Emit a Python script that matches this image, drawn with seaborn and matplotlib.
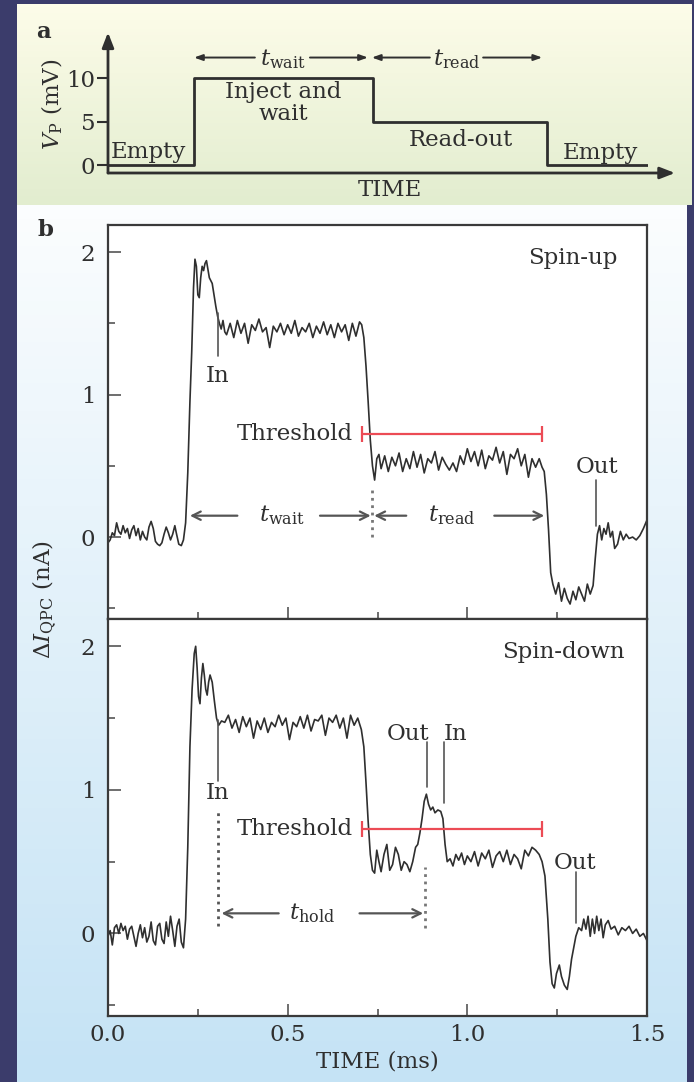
import numpy as np
import matplotlib
matplotlib.use("Agg")
import matplotlib.pyplot as plt
from matplotlib.ticker import MultipleLocator
import seaborn as sns

# ---------------- data ----------------
# panel a: gate pulse (time in ms, Vp in mV)
pulse_t = [0.0, 0.239, 0.239, 0.736, 0.736, 1.219, 1.219, 1.5]
pulse_v = [0, 0, 10, 10, 5, 5, 0, 0]

# panel b, spin-up trace
t_up = [0.000, 0.006, 0.012, 0.018, 0.024, 0.030, 0.036, 0.042, 0.048, 0.054,
        0.060, 0.066, 0.072, 0.078, 0.084, 0.090, 0.096, 0.102, 0.108, 0.114,
        0.120, 0.126, 0.132, 0.138, 0.144, 0.150, 0.156, 0.162, 0.168, 0.174,
        0.180, 0.186, 0.190, 0.197, 0.204, 0.210, 0.216, 0.222, 0.228, 0.233,
        0.238, 0.242, 0.246, 0.250, 0.254, 0.258, 0.262, 0.266, 0.270, 0.274,
        0.278, 0.282, 0.286, 0.290, 0.295, 0.300, 0.305, 0.310, 0.315, 0.320,
        0.325, 0.330, 0.340, 0.350, 0.360, 0.370, 0.380, 0.390, 0.400, 0.410,
        0.420, 0.430, 0.440, 0.450, 0.460, 0.470, 0.480, 0.490, 0.500, 0.510,
        0.520, 0.530, 0.540, 0.550, 0.560, 0.570, 0.580, 0.590, 0.600, 0.610,
        0.620, 0.630, 0.640, 0.650, 0.660, 0.670, 0.680, 0.690, 0.700, 0.706,
        0.712, 0.718, 0.724, 0.730, 0.736, 0.742, 0.748, 0.754, 0.760, 0.770,
        0.780, 0.790, 0.800, 0.810, 0.820, 0.830, 0.840, 0.850, 0.860, 0.870,
        0.880, 0.890, 0.900, 0.910, 0.920, 0.930, 0.940, 0.950, 0.960, 0.970,
        0.980, 0.990, 1.000, 1.010, 1.020, 1.030, 1.040, 1.050, 1.060, 1.070,
        1.080, 1.090, 1.100, 1.110, 1.120, 1.130, 1.140, 1.150, 1.160, 1.170,
        1.180, 1.190, 1.200, 1.208, 1.214, 1.220, 1.226, 1.232, 1.238, 1.246,
        1.254, 1.262, 1.270, 1.278, 1.286, 1.294, 1.302, 1.310, 1.318, 1.326,
        1.334, 1.342, 1.350, 1.356, 1.362, 1.368, 1.374, 1.380, 1.386, 1.392,
        1.398, 1.404, 1.410, 1.418, 1.426, 1.434, 1.442, 1.450, 1.460, 1.470,
        1.480, 1.490, 1.500]
i_up = [-0.04, -0.02, 0.03, 0.01, 0.10, 0.04, 0.02, 0.08, 0.03, 0.06,
        -0.01, 0.05, 0.08, 0.01, 0.06, -0.02, 0.04, 0.00, -0.02, 0.07,
        0.11, 0.06, -0.03, -0.05, -0.06, -0.04, 0.02, 0.07, 0.03, -0.02,
        0.02, 0.08, 0.03, -0.05, -0.06, -0.02, 0.10, 0.45, 0.95, 1.30,
        1.75, 1.95, 1.90, 1.70, 1.68, 1.82, 1.90, 1.87, 1.92, 1.94,
        1.88, 1.82, 1.80, 1.78, 1.70, 1.62, 1.55, 1.50, 1.46, 1.52,
        1.44, 1.42, 1.50, 1.40, 1.52, 1.43, 1.50, 1.36, 1.49, 1.45,
        1.53, 1.44, 1.47, 1.33, 1.48, 1.44, 1.50, 1.42, 1.49, 1.43,
        1.52, 1.41, 1.47, 1.44, 1.50, 1.40, 1.48, 1.43, 1.51, 1.42,
        1.49, 1.40, 1.50, 1.44, 1.49, 1.38, 1.50, 1.41, 1.51, 1.49,
        1.40, 1.20, 0.95, 0.68, 0.50, 0.40, 0.55, 0.58, 0.48, 0.57,
        0.46, 0.56, 0.50, 0.59, 0.46, 0.55, 0.48, 0.60, 0.49, 0.58,
        0.45, 0.55, 0.52, 0.60, 0.47, 0.56, 0.51, 0.47, 0.52, 0.46,
        0.57, 0.51, 0.62, 0.53, 0.60, 0.50, 0.61, 0.48, 0.57, 0.54,
        0.63, 0.52, 0.60, 0.44, 0.58, 0.55, 0.62, 0.50, 0.58, 0.42,
        0.55, 0.49, 0.55, 0.49, 0.46, 0.30, 0.05, -0.25, -0.33, -0.40,
        -0.32, -0.45, -0.36, -0.43, -0.47, -0.38, -0.44, -0.35, -0.40, -0.45,
        -0.33, -0.40, -0.34, -0.15, 0.02, 0.08, -0.02, 0.06, 0.02, 0.10,
        0.00, 0.04, -0.08, -0.05, 0.04, -0.02, 0.02, -0.01, 0.00, -0.02,
        0.01, 0.06, 0.12]

# panel b, spin-down trace
t_dn = [0.000, 0.006, 0.012, 0.018, 0.024, 0.030, 0.036, 0.042, 0.048, 0.054,
        0.060, 0.066, 0.072, 0.078, 0.084, 0.090, 0.096, 0.102, 0.108, 0.114,
        0.120, 0.126, 0.132, 0.138, 0.144, 0.150, 0.156, 0.162, 0.168, 0.174,
        0.180, 0.186, 0.192, 0.198, 0.204, 0.210, 0.216, 0.222, 0.228, 0.234,
        0.240, 0.244, 0.248, 0.252, 0.256, 0.260, 0.264, 0.268, 0.272, 0.276,
        0.280, 0.284, 0.290, 0.296, 0.302, 0.308, 0.316, 0.325, 0.335, 0.345,
        0.355, 0.365, 0.375, 0.385, 0.395, 0.405, 0.415, 0.425, 0.435, 0.445,
        0.455, 0.465, 0.475, 0.485, 0.495, 0.505, 0.515, 0.525, 0.535, 0.545,
        0.555, 0.565, 0.575, 0.585, 0.595, 0.605, 0.615, 0.625, 0.635, 0.645,
        0.655, 0.665, 0.675, 0.685, 0.695, 0.705, 0.712, 0.718, 0.724, 0.730,
        0.736, 0.742, 0.748, 0.754, 0.760, 0.768, 0.776, 0.784, 0.792, 0.800,
        0.808, 0.816, 0.824, 0.832, 0.840, 0.848, 0.856, 0.862, 0.868, 0.874,
        0.880, 0.886, 0.892, 0.898, 0.904, 0.910, 0.918, 0.926, 0.932, 0.938,
        0.944, 0.952, 0.960, 0.968, 0.976, 0.984, 0.992, 1.000, 1.010, 1.020,
        1.030, 1.040, 1.050, 1.060, 1.070, 1.080, 1.090, 1.100, 1.110, 1.120,
        1.130, 1.140, 1.150, 1.160, 1.170, 1.180, 1.190, 1.200, 1.208, 1.216,
        1.224, 1.230, 1.236, 1.242, 1.248, 1.256, 1.262, 1.270, 1.278, 1.284,
        1.290, 1.296, 1.302, 1.310, 1.318, 1.324, 1.330, 1.336, 1.342, 1.348,
        1.354, 1.360, 1.366, 1.372, 1.378, 1.384, 1.392, 1.400, 1.410, 1.420,
        1.430, 1.440, 1.450, 1.460, 1.470, 1.480, 1.490, 1.500]
i_dn = [-0.02, 0.02, -0.08, 0.04, 0.06, 0.00, 0.07, 0.02, 0.05, -0.04,
        0.03, 0.05, -0.02, -0.09, 0.00, 0.06, -0.03, 0.04, -0.06, -0.02,
        0.08, -0.05, -0.08, 0.05, 0.07, -0.04, -0.07, 0.08, -0.02, 0.12,
        0.02, -0.09, 0.05, 0.10, -0.06, -0.10, 0.10, 0.60, 1.30, 1.70,
        1.95, 2.00, 1.85, 1.65, 1.60, 1.78, 1.88, 1.80, 1.70, 1.66,
        1.75, 1.80, 1.75, 1.62, 1.50, 1.45, 1.48, 1.47, 1.52, 1.43,
        1.49, 1.40, 1.51, 1.44, 1.50, 1.36, 1.48, 1.42, 1.50, 1.40,
        1.47, 1.44, 1.52, 1.45, 1.50, 1.35, 1.47, 1.44, 1.51, 1.43,
        1.52, 1.41, 1.49, 1.48, 1.52, 1.38, 1.50, 1.47, 1.52, 1.43,
        1.50, 1.36, 1.52, 1.45, 1.50, 1.42, 1.30, 1.05, 0.78, 0.55,
        0.44, 0.42, 0.58, 0.50, 0.43, 0.55, 0.62, 0.44, 0.48, 0.60,
        0.55, 0.44, 0.50, 0.48, 0.43, 0.50, 0.60, 0.62, 0.70, 0.80,
        0.92, 0.97, 0.90, 0.86, 0.88, 0.84, 0.86, 0.85, 0.80, 0.62,
        0.50, 0.52, 0.47, 0.55, 0.51, 0.56, 0.48, 0.54, 0.50, 0.57,
        0.47, 0.56, 0.52, 0.58, 0.46, 0.54, 0.57, 0.50, 0.58, 0.48,
        0.55, 0.52, 0.45, 0.58, 0.54, 0.60, 0.58, 0.55, 0.50, 0.40,
        0.10, -0.20, -0.35, -0.38, -0.28, -0.22, -0.30, -0.36, -0.39, -0.30,
        -0.18, -0.10, -0.02, 0.04, 0.02, 0.10, 0.03, 0.12, -0.02, 0.10,
        0.00, 0.12, 0.02, 0.10, -0.03, 0.06, 0.09, 0.03, 0.05, -0.01,
        0.04, 0.02, 0.05, 0.00, 0.03, -0.02, 0.00, -0.05]

threshold_t = [0.708, 1.208]
threshold_up = 0.72
threshold_dn = 0.73

# ---------------- style ----------------
sns.set_style("ticks")
plt.rcParams['font.family'] = ['DejaVu Serif']
plt.rcParams['mathtext.fontset'] = 'dejavuserif'

W, H = 694, 1082
INK = "#2f2f2f"
GREY = "#555555"
RED = "#ec4b55"
FS = 16.5


def box(x0, y0, x1, y1):
    # pixel box -> figure fraction
    return [x0 / W, 1 - y1 / H, (x1 - x0) / W, (y1 - y0) / H]


fig = plt.figure(figsize=(W / 100, H / 100), dpi=100, facecolor="#3b3c6b")

# slide backgrounds
bg = fig.add_axes([0, 0, 1, 1], zorder=-10)
bg.axis("off")
green = np.array([[253, 252, 233], [226, 237, 207]]) / 255
blue = np.array([[251, 253, 254], [197, 227, 245]]) / 255
g = np.linspace(0, 1, 64)[:, None, None]
bg.imshow(green[0] * (1 - g) + green[1] * g, extent=[17, 692, 205, 4], aspect="auto")
bg.imshow(blue[0] * (1 - g) + blue[1] * g, extent=[17, 687, 1082, 205], aspect="auto")
bg.set_xlim(0, W)
bg.set_ylim(H, 0)

# ---------------- panel a ----------------
axa = fig.add_axes(box(108, 35, 648, 173))
axa.patch.set_alpha(0)
sns.lineplot(x=pulse_t, y=pulse_v, ax=axa, color=INK, lw=2, sort=False, estimator=None)
axa.set_xlim(0, 1.5)
axa.set_ylim(-0.92, 15)
for s in axa.spines.values():
    s.set_visible(False)
axa.set_xticks([])
axa.set_yticks([0, 5, 10])
axa.tick_params(axis="y", direction="out", length=8, width=1.5, color=INK,
                labelsize=FS, pad=1, labelcolor=INK)
arrow_k = dict(arrowstyle="-|>,head_length=0.9,head_width=0.35", color=INK, lw=2,
               shrinkA=0, shrinkB=0)
axa.annotate("", xy=(0, 15.3), xytext=(0, -0.92), arrowprops=arrow_k, annotation_clip=False)
axa.annotate("", xy=(1.575, -0.92), xytext=(0, -0.92), arrowprops=arrow_k, annotation_clip=False)
axa.set_ylabel(r"$V_{\rm P}$ (mV)", fontsize=FS, color=INK, labelpad=1)
axa.text(0.783, -2.9, "TIME", ha="center", va="center", fontsize=FS, color=INK)
axa.text(0.111, 1.5, "Empty", ha="center", va="center", fontsize=FS, color=INK)
axa.text(1.367, 1.4, "Empty", ha="center", va="center", fontsize=FS, color=INK)
axa.text(0.486, 7.2, "Inject and\nwait", ha="center", va="center", fontsize=FS,
         color=INK, linespacing=1.0)
axa.text(0.981, 2.9, "Read-out", ha="center", va="center", fontsize=FS, color=INK)
head_a = dict(arrowstyle="-|>,head_length=0.5,head_width=0.18", color=INK, lw=1.4,
              shrinkA=0, shrinkB=0)
for x_from, x_to in [(0.408, 0.239), (0.561, 0.722), (0.894, 0.733), (1.042, 1.206)]:
    axa.annotate("", xy=(x_to, 12.4), xytext=(x_from, 12.4), arrowprops=head_a)
axa.text(0.486, 12.2, r"$t_{\rm wait}$", ha="center", va="center", fontsize=FS, color=INK)
axa.text(0.968, 12.2, r"$t_{\rm read}$", ha="center", va="center", fontsize=FS, color=INK)
fig.text(43 / W, 1 - 32 / H, "a", fontsize=FS, fontweight="bold", color=INK,
         ha="center", va="center")

# ---------------- panel b ----------------
ax_up = fig.add_axes(box(108, 225, 647, 619))
ax_dn = fig.add_axes(box(108, 619, 647, 1016))
fig.text(45 / W, 1 - 230 / H, "b", fontsize=FS, fontweight="bold", color=INK,
         ha="center", va="center")

sns.lineplot(x=t_up, y=i_up, ax=ax_up, color=INK, lw=1.2, sort=False, estimator=None)
sns.lineplot(x=t_dn, y=i_dn, ax=ax_dn, color=INK, lw=1.2, sort=False, estimator=None)

for ax in (ax_up, ax_dn):
    ax.set_facecolor("white")
    ax.set_xlim(0, 1.5)
    ax.set_ylim(-0.575, 2.19)
    for s in ax.spines.values():
        s.set_color("#3a3a3a")
        s.set_linewidth(1.6)
    ax.xaxis.set_major_locator(MultipleLocator(0.5))
    ax.xaxis.set_minor_locator(MultipleLocator(0.25))
    ax.yaxis.set_major_locator(MultipleLocator(1))
    ax.yaxis.set_minor_locator(MultipleLocator(0.5))
    ax.tick_params(which="major", direction="in", length=9, width=1.2, color=GREY,
                   labelsize=FS, labelcolor=INK)
    ax.tick_params(which="minor", direction="in", length=5, width=1.2, color=GREY)
    ax.tick_params(axis="y", which="both", pad=9)
    ax.set_xlabel("")
    ax.set_ylabel("")

ax_up.tick_params(axis="x", which="both", labelbottom=False)
ax_dn.tick_params(axis="x", which="both", pad=6)
ax_dn.set_xticks([0, 0.5, 1.0, 1.5])
ax_dn.set_xticklabels(["0.0", "0.5", "1.0", "1.5"])
ax_dn.set_xlabel("TIME (ms)", fontsize=FS, color=INK, labelpad=3)
fig.text(45 / W, 1 - 600 / H, r"$\Delta I_{\rm QPC}$ (nA)", fontsize=FS, color=INK,
         rotation=90, ha="center", va="center")


def thresh(ax, y):
    ax.plot(threshold_t, [y, y], color=RED, lw=1.6)
    ax.plot(threshold_t, [y, y], ls="none", marker="|", ms=11, mew=1.6, color=RED)
    ax.text(0.682, y, "Threshold", ha="right", va="center", fontsize=FS, color=INK)


def mark(ax, x, y0, y1, c=GREY, ls="-", lw=1.2):
    ax.plot([x, x], [y0, y1], color=c, ls=ls, lw=lw)


def span_arrow(ax, x0, x1, y, label, xl, gap0, gap1):
    st = dict(arrowstyle="->,head_length=0.6,head_width=0.3", color=GREY, lw=1.6,
              shrinkA=0, shrinkB=0)
    ax.annotate("", xy=(x0, y), xytext=(gap0, y), arrowprops=st)
    ax.annotate("", xy=(x1, y), xytext=(gap1, y), arrowprops=st)
    ax.text(xl, y, label, ha="center", va="center", fontsize=FS, color=INK)


# spin-up annotations
ax_up.text(1.294, 1.96, "Spin-up", ha="center", va="center", fontsize=FS, color=INK)
thresh(ax_up, threshold_up)
mark(ax_up, 0.306, 1.27, 1.57)
ax_up.text(0.306, 1.13, "In", ha="center", va="center", fontsize=FS, color=INK)
mark(ax_up, 1.358, 0.08, 0.40)
ax_up.text(1.36, 0.49, "Out", ha="center", va="center", fontsize=FS, color=INK)
mark(ax_up, 0.736, 0.0, 0.34, c="#777777", ls=":", lw=2)
span_arrow(ax_up, 0.228, 0.731, 0.15, r"$t_{\rm wait}$", 0.483, 0.36, 0.59)
span_arrow(ax_up, 0.741, 1.214, 0.15, r"$t_{\rm read}$", 0.956, 0.83, 1.075)

# spin-down annotations
ax_dn.text(1.267, 1.96, "Spin-down", ha="center", va="center", fontsize=FS, color=INK)
thresh(ax_dn, threshold_dn)
mark(ax_dn, 0.306, 1.06, 1.49)
ax_dn.text(0.306, 0.98, "In", ha="center", va="center", fontsize=FS, color=INK)
mark(ax_dn, 0.889, 1.02, 1.33)
mark(ax_dn, 0.936, 0.91, 1.33)
ax_dn.text(0.836, 1.39, "Out", ha="center", va="center", fontsize=FS, color=INK)
ax_dn.text(0.967, 1.39, "In", ha="center", va="center", fontsize=FS, color=INK)
mark(ax_dn, 1.303, 0.07, 0.43)
ax_dn.text(1.30, 0.49, "Out", ha="center", va="center", fontsize=FS, color=INK)
mark(ax_dn, 0.306, 0.05, 0.85, c="#555555", ls=":", lw=2)
mark(ax_dn, 0.883, 0.04, 0.46, c="#777777", ls=":", lw=2)
span_arrow(ax_dn, 0.316, 0.877, 0.14, r"$t_{\rm hold}$", 0.569, 0.475, 0.70)

fig.savefig("out.png", dpi=100, facecolor=fig.get_facecolor())
